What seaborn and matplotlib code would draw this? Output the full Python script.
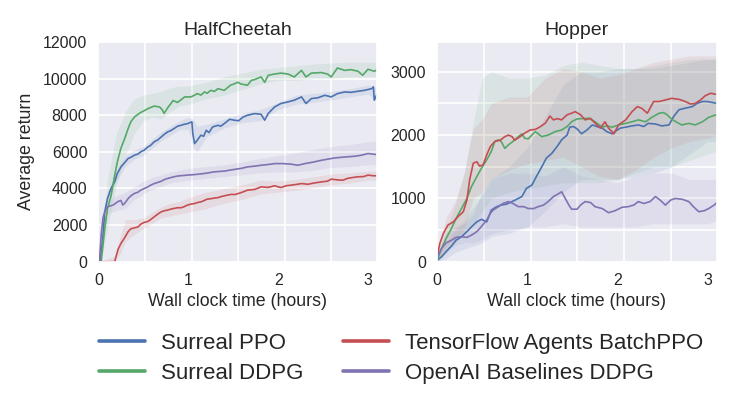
import matplotlib
matplotlib.use("Agg")
import matplotlib.pyplot as plt
from matplotlib.lines import Line2D
import numpy as np
import seaborn as sns

# ---- HalfCheetah (hours, average return) ----
hc_ppo_x = [0.02, 0.05, 0.07, 0.10, 0.14, 0.18, 0.21, 0.25, 0.29, 0.33, 0.36, 0.40, 0.44, 0.47,
            0.51, 0.55, 0.58, 0.62, 0.66, 0.70, 0.73, 0.77, 0.80, 0.84, 0.88, 0.92, 0.95, 0.99,
            1.04, 1.05, 1.07, 1.10, 1.14, 1.17, 1.20, 1.23, 1.27, 1.33, 1.36, 1.40, 1.46, 1.51,
            1.56, 1.61, 1.66, 1.74, 1.81, 1.85, 1.89, 1.96, 2.03, 2.11, 2.18, 2.26, 2.31, 2.37,
            2.44, 2.52, 2.59, 2.66, 2.74, 2.81, 2.89, 2.96, 3.04, 3.06, 3.07, 3.10]
hc_ppo_y = [0, 1450, 2730, 3450, 4000, 4360, 4820, 5180, 5400, 5640, 5700, 5820, 5880, 6000,
            6100, 6270, 6350, 6550, 6650, 6820, 6950, 7090, 7150, 7270, 7400, 7450, 7500, 7540,
            7640, 7000, 6450, 6640, 6910, 6850, 7180, 7050, 7360, 7450, 7400, 7540, 7780, 7730,
            7700, 7900, 8000, 8090, 8050, 7730, 8100, 8450, 8640, 8730, 8820, 9000, 8640, 8910,
            8950, 9090, 9000, 9180, 9270, 9250, 9310, 9360, 9450, 9550, 8820, 9150]

hc_ddpg_x = [0.03, 0.05, 0.07, 0.10, 0.14, 0.18, 0.21, 0.25, 0.29, 0.33, 0.36, 0.40, 0.44, 0.47,
             0.51, 0.55, 0.58, 0.62, 0.68, 0.71, 0.73, 0.77, 0.80, 0.83, 0.88, 0.92, 0.96, 1.03,
             1.07, 1.10, 1.14, 1.18, 1.21, 1.25, 1.29, 1.33, 1.40, 1.47, 1.52, 1.55, 1.59, 1.66,
             1.70, 1.74, 1.81, 1.85, 1.89, 1.96, 2.03, 2.11, 2.18, 2.26, 2.31, 2.37, 2.48, 2.55,
             2.59, 2.66, 2.74, 2.81, 2.89, 2.94, 3.00, 3.07, 3.10]
hc_ddpg_y = [0, 900, 1800, 2900, 3600, 4700, 5450, 6200, 6700, 7270, 7640, 7900, 8050, 8150,
             8250, 8360, 8420, 8500, 8450, 8300, 8100, 8400, 8600, 8800, 8700, 8850, 9000, 9000,
             9100, 9180, 9100, 9270, 9200, 9360, 9300, 9450, 9360, 9640, 9730, 9800, 9700, 9640,
             9900, 9950, 10090, 9800, 10180, 10250, 10300, 10250, 10090, 10450, 10090, 10300, 10330, 10250,
             10090, 10580, 10450, 10490, 10400, 10180, 10510, 10400, 10480]

hc_tfa_x = [0.02, 0.18, 0.20, 0.22, 0.25, 0.29, 0.33, 0.36, 0.40, 0.44, 0.47, 0.51, 0.55, 0.58,
            0.62, 0.66, 0.70, 0.73, 0.77, 0.81, 0.84, 0.88, 0.92, 0.95, 0.99, 1.03, 1.07, 1.10,
            1.14, 1.18, 1.21, 1.25, 1.29, 1.33, 1.36, 1.40, 1.44, 1.48, 1.52, 1.59, 1.66, 1.74,
            1.81, 1.89, 1.96, 2.03, 2.09, 2.14, 2.20, 2.26, 2.33, 2.40, 2.48, 2.55, 2.59, 2.66,
            2.72, 2.77, 2.83, 2.89, 2.95, 3.00, 3.05, 3.10]
hc_tfa_y = [0, 0, 360, 700, 1000, 1300, 1640, 1800, 1850, 1900, 2050, 2150, 2200, 2300,
            2450, 2600, 2730, 2780, 2820, 2880, 2910, 2950, 2950, 3000, 3090, 3150, 3180, 3230,
            3270, 3350, 3420, 3440, 3480, 3500, 3550, 3600, 3640, 3680, 3670, 3780, 3910, 3950,
            4090, 4060, 4150, 4050, 4150, 4180, 4220, 4270, 4230, 4300, 4360, 4400, 4510, 4470,
            4450, 4550, 4600, 4640, 4650, 4730, 4700, 4690]

hc_base_x = [0.01, 0.03, 0.05, 0.07, 0.10, 0.13, 0.16, 0.18, 0.21, 0.25, 0.27, 0.29, 0.33, 0.36,
             0.40, 0.44, 0.47, 0.51, 0.55, 0.58, 0.62, 0.66, 0.70, 0.73, 0.77, 0.81, 0.84, 0.88,
             0.92, 0.99, 1.07, 1.18, 1.29, 1.40, 1.51, 1.59, 1.66, 1.74, 1.81, 1.89, 1.96, 2.05,
             2.14, 2.22, 2.30, 2.40, 2.48, 2.55, 2.63, 2.70, 2.77, 2.85, 2.93, 3.00, 3.05, 3.10]
hc_base_y = [0, 1450, 2400, 2730, 3000, 3050, 3090, 3150, 3270, 3350, 3100, 3180, 3450, 3600,
             3730, 3800, 3910, 4000, 4090, 4180, 4270, 4330, 4400, 4480, 4550, 4600, 4640, 4680,
             4700, 4730, 4760, 4820, 4910, 4950, 5040, 5100, 5180, 5220, 5270, 5310, 5360, 5360,
             5330, 5270, 5360, 5450, 5540, 5600, 5670, 5700, 5730, 5760, 5820, 5910, 5880, 5850]

# spread bands (lower / upper envelope) for HalfCheetah
hc_ppo_band_x = [0.02, 0.1, 0.2, 0.3, 0.4, 0.5, 0.6, 0.7, 0.8, 0.9, 1.0, 1.05, 1.1, 1.2, 1.4, 1.6,
                 1.8, 2.0, 2.2, 2.4, 2.6, 2.8, 3.0, 3.1]
hc_ppo_lo = [0, 3100, 4400, 5200, 5600, 5800, 6200, 6600, 6900, 7200, 7200, 6300, 6000, 6800, 7300,
             7600, 7700, 8300, 8600, 8700, 8850, 9000, 9150, 8800]
hc_ppo_hi = [0, 3800, 5000, 5800, 6100, 6300, 6700, 7100, 7400, 7700, 7900, 7800, 7400, 7500, 7800,
             8100, 8300, 8700, 9100, 9200, 9300, 9450, 9650, 9500]

hc_ddpg_band_x = [0.03, 0.1, 0.2, 0.3, 0.4, 0.5, 0.6, 0.7, 0.8, 0.9, 1.0, 1.2, 1.4, 1.6, 1.8, 2.0,
                  2.2, 2.4, 2.6, 2.8, 3.0, 3.1]
hc_ddpg_lo = [0, 1800, 4200, 5800, 7000, 7700, 7900, 7800, 8200, 8500, 8600, 8900, 9100, 9400, 9700,
              9900, 9900, 10000, 10000, 10100, 10100, 10100]
hc_ddpg_hi = [0, 4500, 7000, 8200, 8900, 9100, 9200, 9300, 9500, 9600, 9600, 9800, 10100, 10300,
              10500, 10600, 10700, 10800, 10850, 10900, 10900, 10900]

hc_tfa_band_x = [0.02, 0.18, 0.25, 0.3, 0.4, 0.5, 0.6, 0.7, 0.8, 0.9, 1.0, 1.2, 1.4, 1.6, 1.8, 2.0,
                 2.2, 2.4, 2.6, 2.8, 3.0, 3.1]
hc_tfa_lo = [0, 0, 500, 1100, 1500, 1800, 2100, 2400, 2500, 2600, 2700, 2900, 3200, 3400, 3700,
             3800, 3900, 4050, 4200, 4300, 4450, 4450]
hc_tfa_hi = [0, 300, 1500, 2300, 2300, 2400, 2700, 3000, 3200, 3300, 3500, 3800, 4000, 4200, 4450,
             4400, 4500, 4650, 4800, 4850, 4950, 4950]

hc_base_band_x = [0.01, 0.1, 0.2, 0.3, 0.4, 0.5, 0.6, 0.8, 1.0, 1.2, 1.4, 1.6, 1.8, 2.0, 2.2, 2.4,
                  2.6, 2.8, 3.0, 3.1]
hc_base_lo = [0, 2600, 2800, 2900, 3400, 3700, 3950, 4300, 4450, 4550, 4650, 4750, 4850, 4900, 4900,
              5000, 5150, 5200, 5300, 5300]
hc_base_hi = [0, 3300, 3600, 3800, 4100, 4400, 4600, 4900, 5100, 5200, 5300, 5450, 5650, 5800, 5950,
              6150, 6300, 6400, 6550, 6600]

# ---- Hopper ----
hop_ppo_x = [0.00, 0.05, 0.10, 0.16, 0.21, 0.27, 0.33, 0.38, 0.44, 0.49, 0.55, 0.60, 0.66, 0.71,
             0.77, 0.83, 0.88, 0.94, 0.99, 1.05, 1.10, 1.16, 1.21, 1.27, 1.33, 1.38, 1.44, 1.47,
             1.51, 1.55, 1.60, 1.66, 1.72, 1.77, 1.83, 1.88, 1.94, 1.97, 2.03, 2.09, 2.16, 2.23,
             2.29, 2.34, 2.42, 2.49, 2.57, 2.62, 2.68, 2.75, 2.83, 2.88, 2.94, 2.99, 3.05, 3.10]
hop_ppo_y = [25, 80, 160, 250, 340, 395, 475, 550, 630, 670, 630, 815, 870, 895,
             910, 950, 985, 1030, 1160, 1210, 1345, 1500, 1635, 1710, 1820, 1925, 2000, 2125,
             2135, 2100, 2020, 2080, 2160, 2135, 2110, 2055, 2020, 2055, 2110, 2125, 2145, 2160,
             2135, 2185, 2175, 2145, 2160, 2290, 2400, 2425, 2450, 2500, 2530, 2530, 2515, 2500]

hop_ddpg_x = [0.00, 0.05, 0.10, 0.16, 0.21, 0.27, 0.33, 0.38, 0.44, 0.49, 0.55, 0.60, 0.64, 0.68,
              0.71, 0.75, 0.79, 0.84, 0.90, 0.94, 0.97, 1.01, 1.05, 1.09, 1.16, 1.23, 1.31, 1.38,
              1.44, 1.49, 1.55, 1.61, 1.68, 1.75, 1.83, 1.88, 1.94, 2.01, 2.09, 2.16, 2.23, 2.31,
              2.38, 2.46, 2.51, 2.55, 2.60, 2.66, 2.71, 2.79, 2.86, 2.94, 3.01, 3.09, 3.10]
hop_ddpg_y = [25, 210, 370, 530, 685, 840, 1000, 1185, 1345, 1475, 1610, 1740, 1900, 1925,
              1900, 1790, 1845, 1900, 1975, 2020, 1950, 1940, 2000, 2055, 1975, 2000, 2055, 2080,
              2135, 2210, 2255, 2260, 2265, 2210, 2125, 2145, 2125, 2160, 2185, 2210, 2240, 2210,
              2280, 2345, 2355, 2320, 2250, 2200, 2160, 2185, 2160, 2210, 2280, 2320, 2300]

hop_tfa_x = [0.00, 0.03, 0.07, 0.12, 0.18, 0.23, 0.29, 0.33, 0.36, 0.40, 0.44, 0.47, 0.51, 0.55,
             0.59, 0.64, 0.70, 0.75, 0.79, 0.83, 0.86, 0.92, 0.97, 1.03, 1.09, 1.14, 1.20, 1.25,
             1.29, 1.33, 1.38, 1.44, 1.49, 1.53, 1.59, 1.64, 1.70, 1.75, 1.81, 1.86, 1.90, 1.96,
             2.01, 2.09, 2.16, 2.22, 2.27, 2.33, 2.40, 2.46, 2.53, 2.60, 2.68, 2.75, 2.81, 2.86,
             2.92, 2.97, 3.03, 3.09, 3.10]
hop_tfa_y = [80, 290, 450, 580, 630, 710, 790, 975, 1290, 1555, 1580, 1510, 1530, 1690,
             1820, 1900, 1920, 1975, 2000, 1975, 1920, 1975, 2030, 2080, 2090, 2130, 2190, 2300,
             2240, 2260, 2240, 2320, 2345, 2370, 2320, 2240, 2265, 2190, 2110, 2210, 2110, 2020,
             2160, 2240, 2370, 2450, 2420, 2345, 2530, 2530, 2555, 2580, 2565, 2530, 2490, 2500,
             2555, 2620, 2660, 2645, 2635]

hop_base_x = [0.00, 0.05, 0.10, 0.16, 0.21, 0.27, 0.33, 0.38, 0.44, 0.49, 0.55, 0.59, 0.62, 0.68,
              0.73, 0.79, 0.84, 0.90, 0.96, 1.01, 1.07, 1.12, 1.18, 1.23, 1.29, 1.34, 1.38, 1.42,
              1.46, 1.49, 1.55, 1.59, 1.64, 1.70, 1.75, 1.83, 1.90, 1.97, 2.05, 2.12, 2.18, 2.23,
              2.29, 2.36, 2.42, 2.47, 2.53, 2.59, 2.64, 2.72, 2.79, 2.84, 2.90, 2.96, 3.01, 3.07,
              3.10]
hop_base_y = [80, 210, 300, 340, 385, 395, 385, 420, 475, 555, 660, 765, 815, 870,
              920, 950, 920, 870, 870, 840, 840, 870, 895, 950, 1030, 1070, 1105, 1000,
              895, 830, 830, 895, 950, 935, 870, 840, 775, 805, 860, 870, 895, 950,
              920, 950, 1030, 975, 895, 975, 1000, 985, 950, 870, 790, 805, 840, 895,
              935]

hop_band_x = [0.0, 0.1, 0.2, 0.3, 0.4, 0.5, 0.6, 0.8, 1.0, 1.2, 1.4, 1.6, 1.8, 2.0, 2.2, 2.4,
              2.6, 2.8, 3.0, 3.1]
hop_ppo_lo = [0, 50, 150, 200, 250, 300, 400, 450, 550, 800, 1100, 1300, 1300, 1300, 1350, 1400,
              1500, 1700, 1900, 1900]
hop_ppo_hi = [50, 300, 500, 650, 850, 1050, 1300, 1500, 1800, 2300, 2800, 3000, 3000, 3050, 3050,
              3050, 3100, 3150, 3200, 3200]
hop_ddpg_lo = [0, 150, 300, 450, 600, 800, 1000, 1100, 1150, 1200, 1250, 1250, 1250, 1300, 1400,
               1500, 1500, 1600, 1700, 1750]
hop_ddpg_hi = [100, 500, 900, 1400, 2200, 2900, 3000, 2900, 2900, 2950, 3100, 3150, 3100, 3050,
               3050, 3100, 3150, 3200, 3200, 3200]
hop_tfa_lo = [0, 250, 350, 500, 1000, 1100, 1300, 1450, 1550, 1600, 1650, 1500, 1350, 1300, 1450,
              1650, 1800, 1900, 1950, 2000]
hop_tfa_hi = [150, 700, 950, 1400, 2100, 2250, 2500, 2600, 2600, 2900, 3050, 3000, 2900, 2950,
              3050, 3150, 3200, 3250, 3250, 3250]
hop_base_lo = [0, 150, 250, 300, 300, 350, 450, 500, 550, 550, 600, 550, 550, 550, 550, 600, 600,
               600, 600, 650]
hop_base_hi = [150, 450, 550, 600, 750, 1100, 1300, 1400, 1400, 1350, 1500, 1350, 1300, 1250, 1350,
               1400, 1400, 1300, 1300, 1300]

labels = ["Surreal PPO", "Surreal DDPG", "TensorFlow Agents BatchPPO", "OpenAI Baselines DDPG"]
colors = ["#4C72B0", "#55A868", "#C44E52", "#8172B2"]

sns.set_theme(style="darkgrid", rc={"grid.linewidth": 1.2})
plt.rcParams["font.family"] = ["Liberation Sans", "DejaVu Sans"]

fig = plt.figure(figsize=(7.31, 3.96), dpi=100)
ax1 = fig.add_axes([0.1347, 0.339, 0.381, 0.555])
ax2 = fig.add_axes([0.598, 0.339, 0.3826, 0.555])


def draw(ax, lines, bands):
    for (bx, lo, hi), c in zip(bands, colors):
        ax.fill_between(bx, lo, hi, color=c, alpha=0.1, lw=0)
    for (x, y), c in zip(lines, colors):
        sns.lineplot(x=x, y=y, ax=ax, color=c, lw=1.2, sort=False)


draw(ax1,
     [(hc_ppo_x, hc_ppo_y), (hc_ddpg_x, hc_ddpg_y), (hc_tfa_x, hc_tfa_y), (hc_base_x, hc_base_y)],
     [(hc_ppo_band_x, hc_ppo_lo, hc_ppo_hi), (hc_ddpg_band_x, hc_ddpg_lo, hc_ddpg_hi),
      (hc_tfa_band_x, hc_tfa_lo, hc_tfa_hi), (hc_base_band_x, hc_base_lo, hc_base_hi)])
draw(ax2,
     [(hop_ppo_x, hop_ppo_y), (hop_ddpg_x, hop_ddpg_y), (hop_tfa_x, hop_tfa_y), (hop_base_x, hop_base_y)],
     [(hop_band_x, hop_ppo_lo, hop_ppo_hi), (hop_band_x, hop_ddpg_lo, hop_ddpg_hi),
      (hop_band_x, hop_tfa_lo, hop_tfa_hi), (hop_band_x, hop_base_lo, hop_base_hi)])

for ax, title in [(ax1, "HalfCheetah"), (ax2, "Hopper")]:
    ax.set_xlim(0, 3.1)
    # hour labels on major ticks, vertical grid lines on their own (minor) spacing
    ax.set_xticks([0, 1, 2, 3])
    ax.set_xticks(np.arange(0.518, 3.1, 0.518), minor=True)
    ax.xaxis.grid(False, which="major")
    ax.xaxis.grid(True, which="minor")
    ax.tick_params(which="both", length=0, pad=8, labelsize=11.5)
    ax.set_title(title, fontsize=14, pad=5)
    ax.set_xlabel("Wall clock time (hours)", fontsize=12.8, labelpad=4)

ax1.set_ylim(0, 12000)
ax1.set_yticks(range(0, 12001, 2000))
ax1.set_ylabel("Average return", fontsize=12.8, labelpad=6)

ax2.set_ylim(0, 3470)
ax2.set_yticks([0, 1000, 2000, 3000])
ax2.set_yticks([500, 1500, 2500], minor=True)
ax2.yaxis.grid(True, which="both")
ax2.set_ylabel("")

handles = [Line2D([0], [0], color=c, lw=2.6) for c in colors]
fig.legend(handles, labels, ncol=2, loc="center", bbox_to_anchor=(0.549, 0.095),
           frameon=False, fontsize=16, handlelength=2.05, handletextpad=0.72,
           columnspacing=1.8, labelspacing=0.42)

fig.savefig("out.png", dpi=100)
